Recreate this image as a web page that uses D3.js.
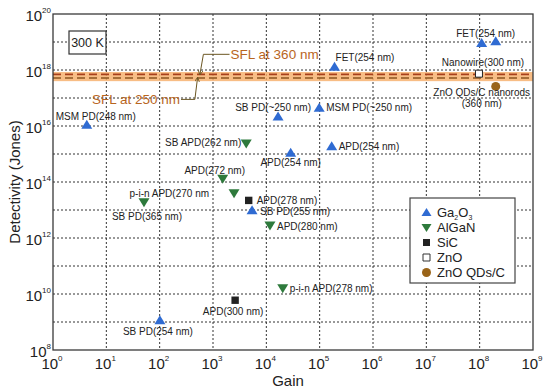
<!DOCTYPE html>
<html lang="en">
<head>
<meta charset="UTF-8">
<script src="https://d3js.org/d3.v7.min.js"></script>
<style>
  body { margin: 0; background: #fff; }
  svg { font-family: "Liberation Sans", Arial, sans-serif; }
</style>
</head>
<body>
<svg id="chart" width="550" height="392"></svg>
<script>
// ---- data ----
const xTicks = [1, 1e1, 1e2, 1e3, 1e4, 1e5, 1e6, 1e7, 1e8, 1e9];
const yTicks = [1e8, 1e10, 1e12, 1e14, 1e16, 1e18, 1e20];

const ga2o3 = [
  { gain: 4.3,   det: 1.1e16, name: "MSM PD(248 nm)" },
  { gain: 1.66e4, det: 2.2e16, name: "SB PD(~250 nm)" },
  { gain: 9.8e4, det: 4.5e16, name: "MSM PD(~250 nm)" },
  { gain: 1.9e5, det: 1.3e18, name: "FET(254 nm)" },
  { gain: 1.09e8, det: 9.2e18, name: "FET(254 nm)" },
  { gain: 2.0e8, det: 1.06e19, name: "" },
  { gain: 1.68e5, det: 1.9e15, name: "APD(254 nm)" },
  { gain: 2.86e4, det: 1.1e15, name: "APD(254 nm)" },
  { gain: 5.4e3, det: 9.8e12, name: "SB PD(255 nm)" },
  { gain: 101,   det: 1.15e9, name: "SB PD(254 nm)" }
];
const algan = [
  { gain: 4.2e3, det: 2.35e15, name: "SB APD(262 nm)" },
  { gain: 1.52e3, det: 1.3e14, name: "APD(272 nm)" },
  { gain: 2.48e3, det: 4.0e13, name: "p-i-n APD(270 nm" },
  { gain: 50.8,  det: 1.9e13, name: "SB PD(365 nm)" },
  { gain: 1.17e4, det: 2.8e12, name: "APD(280 nm)" },
  { gain: 2.03e4, det: 1.6e10, name: "p-i-n APD(278 nm)" }
];
const sic = [
  { gain: 4.67e3, det: 2.2e13, name: "APD(278 nm)" },
  { gain: 2.6e3, det: 6.0e9, name: "APD(300 nm)" }
];
const zno = [
  { gain: 9.7e7, det: 7.4e17, name: "Nanowire(300 nm)" }
];
const znoQDs = [
  { gain: 2.0e8, det: 2.6e17, name: "ZnO QDs/C nanorods|(360 nm)" }
];
// self-filtering limit (SFL) levels
const sflLevels = [
  { name: "SFL at 360 nm", det: 7.0e17 },
  { name: "SFL at 250 nm", det: 5.2e17 }
];
const sflBand = [4.0e17, 8.5e17];
const legendNames = ["Ga2O3", "AlGaN", "SiC", "ZnO", "ZnO QDs/C"];

// ---- label layout (pixel offsets from each marker: dx, dy, anchor) ----
const gaPos = [[9,-8,"middle"],[-5,-9,"middle"],[7,0,"start"],[1,-9.5,"start"],[4,-10,"middle"],
  [0,0,"start"],[7,0,"start"],[0,10,"middle"],[8,1,"start"],[-2,11,"middle"]];
const alPos = [[-5,-1,"end"],[-8,-8.5,"middle"],[-25,0,"end"],[3,14.5,"middle"],[7,1.5,"start"],[7,0,"start"]];
const sicPos = [[8,0,"start"],[-2,11.5,"middle"]];
const znoPos = [[4,-11,"middle"]];
const qdPos = [[-14,6.5,"middle"]];

// ---- chart ----
const svg = d3.select("svg#chart");
const plot = { left: 53, right: 533, top: 14, bottom: 350 };

const x = d3.scaleLog().domain([1, 1e9]).range([plot.left, plot.right]);
const y = d3.scaleLog().domain([1e8, 1e20]).range([plot.bottom, plot.top]);

const colors = { ga: "#2f6bd2", al: "#2e7a3c", sic: "#222222", zno: "#ffffff", qd: "#9a6418" };

// grid (dotted, every decade)
const grid = svg.append("g").attr("stroke", "#333").attr("stroke-width", 1).attr("stroke-dasharray", "2,2");
d3.range(1, 9).forEach(e => {
  grid.append("line").attr("x1", x(Math.pow(10, e))).attr("x2", x(Math.pow(10, e)))
    .attr("y1", plot.top).attr("y2", plot.bottom);
});
d3.range(9, 20).forEach(e => {
  grid.append("line").attr("y1", y(Math.pow(10, e))).attr("y2", y(Math.pow(10, e)))
    .attr("x1", plot.left).attr("x2", plot.right);
});

// SFL band + dashed lines
svg.append("rect")
  .attr("x", plot.left).attr("width", plot.right - plot.left)
  .attr("y", y(sflBand[1])).attr("height", y(sflBand[0]) - y(sflBand[1]))
  .attr("fill", "#f6ad66").attr("opacity", 0.8);
const dashCol = ["#a8401c", "#8c5520"];
sflLevels.forEach((d, i) => {
  svg.append("line")
    .attr("x1", plot.left).attr("x2", plot.right)
    .attr("y1", y(d.det)).attr("y2", y(d.det))
    .attr("stroke", dashCol[i]).attr("stroke-width", 1.6)
    .attr("stroke-dasharray", "8,4");
});

// SFL labels with leader lines
svg.append("defs").append("marker")
  .attr("id", "arr").attr("viewBox", "0 0 6 6").attr("refX", 5).attr("refY", 3)
  .attr("markerWidth", 5).attr("markerHeight", 5).attr("orient", "auto")
  .append("path").attr("d", "M0,0L6,3L0,6").attr("fill", "none").attr("stroke", "#6b5622").attr("stroke-width", 1);

const sflText = [
  { gx: 3.33, dy: 18.56, anchor: "start", leader: [[3.31, 18.56], [2.82, 18.56], [2.755]] },
  { gx: 2.38, dy: 16.95, anchor: "end", leader: [[2.40, 16.95], [2.66, 16.95], [2.71]] }
];
sflText.forEach((t, i) => {
  svg.append("text")
    .attr("x", x(Math.pow(10, t.gx))).attr("y", y(Math.pow(10, t.dy)))
    .attr("dy", "0.36em").attr("text-anchor", t.anchor)
    .attr("font-size", 13.5).attr("fill", "#b8651e")
    .text(sflLevels[i].name);
  const pts = [
    [x(Math.pow(10, t.leader[0][0])), y(Math.pow(10, t.leader[0][1]))],
    [x(Math.pow(10, t.leader[1][0])), y(Math.pow(10, t.leader[1][1]))],
    [x(Math.pow(10, t.leader[2][0])), y(sflLevels[i].det)]
  ];
  svg.append("path").attr("d", d3.line()(pts))
    .attr("fill", "none").attr("stroke", "#6b5622").attr("stroke-width", 1)
    .attr("marker-end", "url(#arr)");
});

// frame
svg.append("rect").attr("x", plot.left).attr("y", plot.top)
  .attr("width", plot.right - plot.left).attr("height", plot.bottom - plot.top)
  .attr("fill", "none").attr("stroke", "#3a3a3a").attr("stroke-width", 1.3);

// axis tick labels (10 with superscript)
xTicks.forEach(v => {
  const e = Math.round(Math.log10(v));
  const t = svg.append("text").attr("x", x(v) - 1).attr("y", 369)
    .attr("text-anchor", "middle").attr("font-size", 15).attr("fill", "#222");
  t.append("tspan").text("10");
  t.append("tspan").attr("font-size", 8).attr("dy", -8).text(e);
});
yTicks.forEach(v => {
  const e = Math.round(Math.log10(v));
  const t = svg.append("text").attr("x", plot.left - 2).attr("y", y(v) + 6.5)
    .attr("text-anchor", "end").attr("font-size", 15).attr("fill", "#222");
  t.append("tspan").text("10");
  t.append("tspan").attr("font-size", 8).attr("dy", -8).text(e);
});

// axis titles
svg.append("text").attr("x", 288).attr("y", 386).attr("text-anchor", "middle")
  .attr("font-size", 15).attr("fill", "#222").text("Gain");
svg.append("text").attr("transform", "translate(20,182) rotate(-90)")
  .attr("text-anchor", "middle").attr("font-size", 15).attr("fill", "#222")
  .text("Detectivity (Jones)");

// 300 K box
svg.append("rect").attr("x", 69).attr("y", 31).attr("width", 37).attr("height", 23)
  .attr("fill", "#fff").attr("stroke", "#333").attr("stroke-width", 1.2);
svg.append("text").attr("x", 87.5).attr("y", 47).attr("text-anchor", "middle")
  .attr("font-size", 12.5).attr("fill", "#222").text("300 K");

// markers
const triUp = "M0,-5L5.5,4L-5.5,4Z";
const triDown = "M0,5L5.5,-4L-5.5,-4Z";
const sq = "M-3.7,-3.7h7.4v7.4h-7.4Z";

function drawSeries(data, pos, shape, fill, stroke) {
  const g = svg.append("g");
  data.forEach((d, i) => {
    const cx = x(d.gain), cy = y(d.det);
    if (shape === "circle") {
      g.append("circle").attr("cx", cx).attr("cy", cy).attr("r", 4.5).attr("fill", fill);
    } else {
      g.append("path").attr("d", shape).attr("transform", `translate(${cx},${cy})`)
        .attr("fill", fill).attr("stroke", stroke || "none").attr("stroke-width", 1);
    }
    if (!d.name) return;
    const p = pos[i];
    const lines = d.name.split("|");
    lines.forEach((ln, k) => {
      g.append("text").attr("x", cx + p[0]).attr("y", cy + p[1] + k * 10.5)
        .attr("dy", "0.35em").attr("text-anchor", p[2])
        .attr("font-size", 10).attr("fill", "#222").text(ln);
    });
  });
}
drawSeries(ga2o3, gaPos, triUp, colors.ga);
drawSeries(algan, alPos, triDown, colors.al);
drawSeries(sic, sicPos, sq, colors.sic);
drawSeries(zno, znoPos, "M-3.5,-3.5h7v7h-7Z", colors.zno, "#222");
drawSeries(znoQDs, qdPos, "circle", colors.qd);

// legend
const lg = svg.append("g");
lg.append("rect").attr("x", 410).attr("y", 198).attr("width", 105).attr("height", 85)
  .attr("fill", "#fff").attr("stroke", "#444").attr("stroke-width", 1.2);
const legShapes = [
  { d: "M0,-4.5L5,3.5L-5,3.5Z", fill: colors.ga },
  { d: "M0,4.5L5,-3.5L-5,-3.5Z", fill: colors.al },
  { d: "M-3.5,-3.5h7v7h-7Z", fill: colors.sic },
  { d: "M-3.5,-3.5h7v7h-7Z", fill: "#fff", stroke: "#333" },
  { circle: true, fill: colors.qd }
];
legendNames.forEach((n, i) => {
  const ly = 212.5 + i * 15;
  const s = legShapes[i];
  if (s.circle) {
    lg.append("circle").attr("cx", 426.5).attr("cy", ly).attr("r", 4.5).attr("fill", s.fill);
  } else {
    lg.append("path").attr("d", s.d).attr("transform", `translate(426.5,${ly})`)
      .attr("fill", s.fill).attr("stroke", s.stroke || "none");
  }
  const t = lg.append("text").attr("x", 437).attr("y", ly).attr("dy", "0.36em")
    .attr("font-size", 13).attr("fill", "#222");
  if (n === "Ga2O3") {
    t.append("tspan").text("Ga");
    t.append("tspan").attr("font-size", 7).attr("dy", 3).text("2");
    t.append("tspan").attr("dy", -3).text("O");
    t.append("tspan").attr("font-size", 7).attr("dy", 3).text("3");
  } else {
    t.text(n);
  }
});
</script>
</body>
</html>
